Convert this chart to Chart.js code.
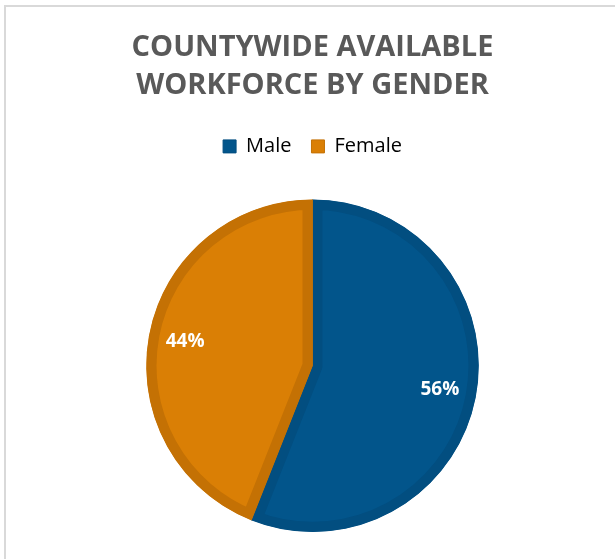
<!DOCTYPE html>
<html>
<head>
<meta charset="utf-8">
<script src="https://cdn.jsdelivr.net/npm/chart.js@4/dist/chart.umd.min.js"></script>
<style>
  html, body { margin: 0; padding: 0; background: #ffffff; }
  #wrap { position: relative; width: 615px; height: 559px; overflow: hidden; }
  #frame { position: absolute; left: 4px; top: 5px; width: 700px; height: 700px;
           border-left: 2px solid #D9D9D9; border-top: 2px solid #D9D9D9; box-sizing: border-box; }
  canvas { position: absolute; left: 0; top: 0; }
</style>
</head>
<body>
<div id="wrap">
  <div id="frame"></div>
  <canvas id="c" width="615" height="559"></canvas>
</div>
<script>
const titleLines = ['COUNTYWIDE AVAILABLE', 'WORKFORCE BY GENDER'];
const categories = ['Male', 'Female'];
const shares = [56, 44];
const fillColors = ['#02558B', '#DA7F05'];
const edgeColors = ['#024E80', '#C47104'];

const pctLabels = {
  id: 'pctLabels',
  afterDatasetsDraw(chart) {
    const ctx = chart.ctx;
    const meta = chart.getDatasetMeta(0);
    const total = shares.reduce((a, b) => a + b, 0);
    ctx.save();
    ctx.font = 'bold 19px "Open Sans"';
    ctx.fillStyle = '#FFFFFF';
    ctx.textAlign = 'center';
    ctx.textBaseline = 'middle';
    meta.data.forEach((arc, i) => {
      const p = arc.getProps(['x', 'y', 'startAngle', 'endAngle', 'outerRadius'], true);
      const mid = (p.startAngle + p.endAngle) / 2;
      const r = p.outerRadius * 0.78;
      const txt = Math.round(shares[i] / total * 100) + '%';
      ctx.fillText(txt, p.x + Math.cos(mid) * r, p.y + Math.sin(mid) * r);
    });
    ctx.restore();
  }
};

new Chart(document.getElementById('c'), {
  type: 'pie',
  data: {
    labels: categories,
    datasets: [{
      data: shares,
      backgroundColor: fillColors,
      borderColor: edgeColors,
      borderWidth: 10,
      borderAlign: 'inner'
    }]
  },
  options: {
    responsive: false,
    animation: false,
    events: [],
    layout: { padding: { left: 10, right: 0, top: 0, bottom: 27 } },
    plugins: {
      tooltip: { enabled: false },
      title: {
        display: true,
        text: titleLines,
        color: '#595959',
        font: { family: '"Open Sans"', size: 29, weight: 'bold', lineHeight: 1.3 },
        padding: { top: 29, bottom: 12 }
      },
      subtitle: {
        display: true,
        text: ' ',
        color: 'rgba(0,0,0,0)',
        weight: 500,
        font: { size: 1, lineHeight: 1 },
        padding: { top: 32, bottom: 0 }
      },
      legend: {
        display: true,
        position: 'top',
        labels: {
          color: '#595959',
          font: { family: '"Open Sans"', size: 20 },
          boxWidth: 13,
          boxHeight: 13,
          padding: 20,
          generateLabels(chart) {
            return categories.map((c, i) => ({
              text: c,
              fillStyle: fillColors[i],
              strokeStyle: edgeColors[i],
              lineWidth: 1,
              hidden: false,
              index: i
            }));
          }
        }
      }
    }
  },
  plugins: [pctLabels]
});
</script>
</body>
</html>
